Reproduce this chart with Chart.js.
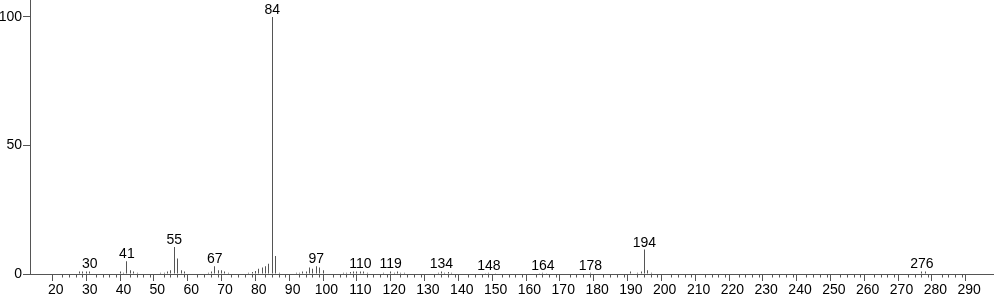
<!DOCTYPE html>
<html lang="en">
<head>
  <meta charset="UTF-8">
  <title>Mass spectrum</title>
  <style>
    html, body { margin: 0; padding: 0; background: #fff; }
    canvas { display: block; }
  </style>
</head>
<body>
  <canvas id="myChart" width="996" height="299"></canvas>

  <script src="https://cdn.jsdelivr.net/npm/chart.js"></script>
  <script>
    // m/z values and relative intensities (%)
    const mz = [27, 28, 29, 30, 39, 40, 41, 42, 43, 44,
                51, 52, 53, 54, 55, 56, 57, 58,
                65, 66, 67, 68, 69, 70, 71,
                77, 78, 79, 80, 81, 82, 83, 84, 85, 86,
                91, 92, 93, 94, 95, 96, 97, 98, 99,
                105, 106, 107, 108, 109, 110, 111, 112,
                117, 119, 120, 121, 122, 123,
                133, 134, 135, 136, 137,
                147, 148, 150, 163, 164, 165, 178,
                190, 192, 193, 194, 195, 196,
                276, 277];
    const intensity = [1, 1, 1, 1, 1, 0.5, 5, 1.5, 1, 0.5,
                       0.5, 0.5, 1, 1.5, 10.5, 6, 1.5, 1,
                       0.5, 1, 3, 1.5, 1.5, 1, 0.5,
                       0.5, 0.8, 1.2, 2, 2.5, 3, 4, 100, 7, 0.5,
                       0.5, 0.5, 1, 1, 2.5, 2, 3, 2.5, 1.5,
                       0.5, 0.5, 0.8, 1, 1, 1, 1, 0.5,
                       0.5, 1, 0.5, 1, 0.5, 0.5,
                       0.5, 1, 0.5, 0.8, 0.5,
                       0.3, 0.5, 0.3, 0.3, 0.5, 0.3, 0.5,
                       1, 0.5, 1, 9.5, 1.5, 0.5,
                       1, 1];
    const labelledPeaks = [30, 41, 55, 67, 84, 97, 110, 119, 134, 148, 164, 178, 194, 276];
    const xTicks = [];
    for (let v = 20; v <= 290; v += 2) xTicks.push(v);
    const yTicks = [0, 50, 100];

    const lineColor = '#555';
    const font = { family: '"Liberation Sans", Arial, sans-serif', size: 14 };

    // keep the 1px sticks crisp
    const crispBars = {
      id: 'crispBars',
      beforeDatasetsDraw(chart) {
        chart.getDatasetMeta(0).data.forEach(el => { el.x = Math.floor(el.x) + 0.5; });
      }
    };

    // peak labels + short minor ticks
    const peakLabels = {
      id: 'peakLabels',
      afterDatasetsDraw(chart) {
        const ctx = chart.ctx;
        const x = chart.scales.x, y = chart.scales.y;
        ctx.save();
        ctx.fillStyle = '#000';
        ctx.font = '14px ' + font.family;
        ctx.textAlign = 'center';
        ctx.textBaseline = 'alphabetic';
        labelledPeaks.forEach(m => {
          const i = mz.indexOf(m);
          const v = i >= 0 ? intensity[i] : 0;
          ctx.fillText(String(m), x.getPixelForValue(m), y.getPixelForValue(v) - 3);
        });
        // minor ticks
        ctx.strokeStyle = lineColor;
        ctx.lineWidth = 1;
        const y0 = Math.round(y.getPixelForValue(0)) + 0.5;
        xTicks.forEach(v => {
          if (v % 10 === 0) return;
          const px = Math.floor(x.getPixelForValue(v)) + 0.5;
          ctx.beginPath();
          ctx.moveTo(px, y0);
          ctx.lineTo(px, y0 + 3);
          ctx.stroke();
        });
        ctx.restore();
      }
    };

    const data = {
      datasets: [{
        data: mz.map((m, i) => ({ x: m, y: intensity[i] })),
        backgroundColor: lineColor,
        borderWidth: 0,
        barThickness: 1,
        inflateAmount: 0,
        grouped: false
      }]
    };

    const config = {
      type: 'bar',
      data,
      options: {
        responsive: false,
        animation: false,
        layout: { padding: { top: 0, right: 3, bottom: 0, left: 0 } },
        plugins: { legend: { display: false }, tooltip: { enabled: false } },
        scales: {
          x: {
            type: 'linear',
            min: 13.4,
            max: 296,
            afterBuildTicks: s => { s.ticks = xTicks.map(v => ({ value: v })); },
            afterFit: s => { s.height = 25; s.paddingLeft = 0; s.paddingRight = 0; },
            ticks: {
              autoSkip: false,
              maxRotation: 0,
              padding: 1,
              color: '#000',
              font,
              callback: v => (v % 10 === 0 ? String(v) : '')
            },
            grid: {
              drawOnChartArea: false,
              tickLength: 7,
              tickColor: c => (c.tick && c.tick.value % 10 === 0 ? lineColor : 'rgba(0,0,0,0)')
            },
            border: { color: lineColor, width: 1 }
          },
          y: {
            min: 0,
            max: 106.6,
            afterBuildTicks: s => { s.ticks = yTicks.map(v => ({ value: v })); },
            afterFit: s => { s.width = 30; s.paddingTop = 0; s.paddingBottom = 0; },
            ticks: { padding: 1, color: '#000', font },
            grid: { drawOnChartArea: false, tickLength: 7, tickColor: lineColor },
            border: { color: lineColor, width: 1 }
          }
        }
      },
      plugins: [crispBars, peakLabels]
    };

    const myChart = new Chart(document.getElementById('myChart'), config);
  </script>
</body>
</html>
